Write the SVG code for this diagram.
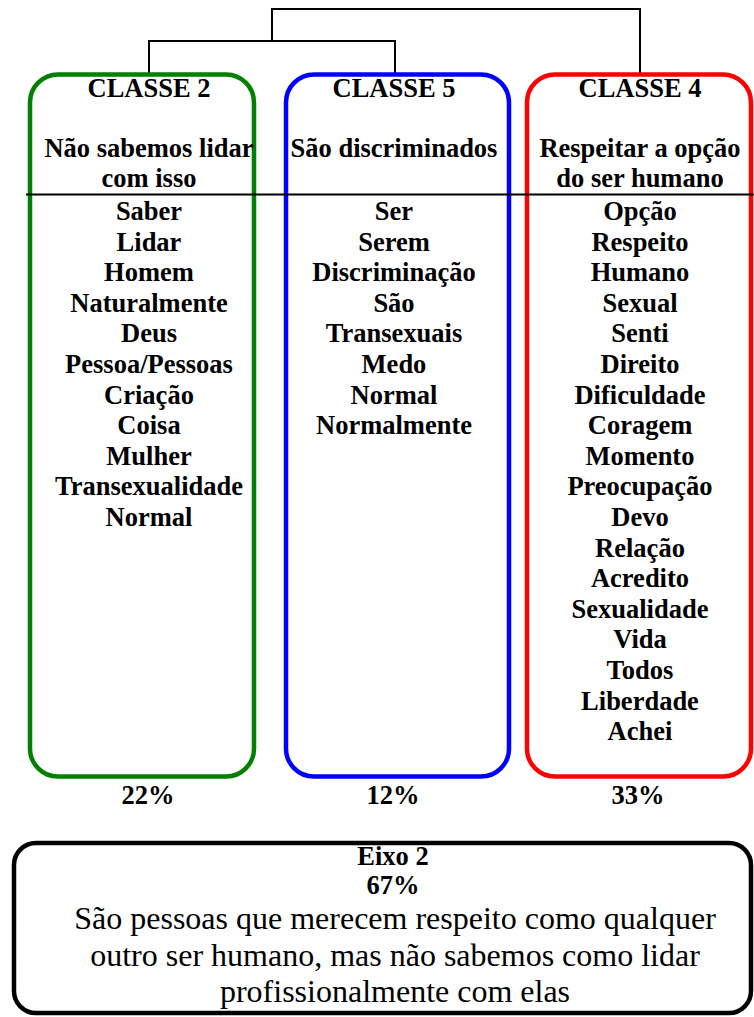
<svg xmlns="http://www.w3.org/2000/svg" width="754" height="1017" viewBox="0 0 754 1017">
<style>
.b{font-family:"Liberation Serif","Times New Roman",serif;font-weight:bold;font-size:26.5px;text-anchor:middle;fill:#000}
.r{font-family:"Liberation Serif","Times New Roman",serif;font-size:32px;text-anchor:middle;fill:#000}
.ln{stroke:#000;stroke-width:2;fill:none}
.box{fill:none;stroke-width:4.5}
</style>
<rect width="754" height="1017" fill="#fff"/>
<g id="connectors">
<polyline class="ln" points="272,41 272,9 640,9 640,73"/>
<polyline class="ln" points="149,73 149,41 395,41 395,73"/>
</g>
<g id="classe2">
<rect class="box" x="30" y="74.5" width="224" height="702" rx="28" stroke="#008000"/>
<text class="b" x="149" y="97">CLASSE 2</text>
<text class="b" x="149" y="157">Não sabemos lidar</text>
<text class="b" x="149" y="187">com isso</text>
<text class="b" x="149" y="220">Saber</text>
<text class="b" x="149" y="250.6">Lidar</text>
<text class="b" x="149" y="281.2">Homem</text>
<text class="b" x="149" y="311.8">Naturalmente</text>
<text class="b" x="149" y="342.4">Deus</text>
<text class="b" x="149" y="373">Pessoa/Pessoas</text>
<text class="b" x="149" y="403.6">Criação</text>
<text class="b" x="149" y="434.2">Coisa</text>
<text class="b" x="149" y="464.8">Mulher</text>
<text class="b" x="149" y="495.4">Transexualidade</text>
<text class="b" x="149" y="526">Normal</text>
<text class="b" x="148" y="804">22%</text>
</g>
<g id="classe5">
<rect class="box" x="286" y="74.5" width="223" height="702" rx="28" stroke="#0000FF"/>
<text class="b" x="394" y="97">CLASSE 5</text>
<text class="b" x="394" y="157">São discriminados</text>
<text class="b" x="394" y="220">Ser</text>
<text class="b" x="394" y="250.6">Serem</text>
<text class="b" x="394" y="281.2">Discriminação</text>
<text class="b" x="394" y="311.8">São</text>
<text class="b" x="394" y="342.4">Transexuais</text>
<text class="b" x="394" y="373">Medo</text>
<text class="b" x="394" y="403.6">Normal</text>
<text class="b" x="394" y="434.2">Normalmente</text>
<text class="b" x="393" y="804">12%</text>
</g>
<g id="classe4">
<rect class="box" x="527" y="74.5" width="224" height="702" rx="28" stroke="#FF0000"/>
<text class="b" x="640" y="97">CLASSE 4</text>
<text class="b" x="640" y="157">Respeitar a opção</text>
<text class="b" x="640" y="187">do ser humano</text>
<text class="b" x="640" y="220">Opção</text>
<text class="b" x="640" y="250.6">Respeito</text>
<text class="b" x="640" y="281.2">Humano</text>
<text class="b" x="640" y="311.8">Sexual</text>
<text class="b" x="640" y="342.4">Senti</text>
<text class="b" x="640" y="373">Direito</text>
<text class="b" x="640" y="403.6">Dificuldade</text>
<text class="b" x="640" y="434.2">Coragem</text>
<text class="b" x="640" y="464.8">Momento</text>
<text class="b" x="640" y="495.4">Preocupação</text>
<text class="b" x="640" y="526">Devo</text>
<text class="b" x="640" y="556.6">Relação</text>
<text class="b" x="640" y="587.2">Acredito</text>
<text class="b" x="640" y="617.8">Sexualidade</text>
<text class="b" x="640" y="648.4">Vida</text>
<text class="b" x="640" y="679">Todos</text>
<text class="b" x="640" y="709.6">Liberdade</text>
<text class="b" x="640" y="740.2">Achei</text>
<text class="b" x="638" y="804">33%</text>
</g>
<line id="divider" x1="26" y1="194.5" x2="754" y2="194.5" stroke="#000" stroke-width="2"/>
<g id="eixo2">
<rect x="14" y="843" width="737" height="170" rx="22" fill="none" stroke="#000" stroke-width="4.5"/>
<text class="b" x="393" y="865">Eixo 2</text>
<text class="b" x="393" y="894">67%</text>
<text class="r" x="395" y="929">São pessoas que merecem respeito como qualquer</text>
<text class="r" x="395" y="966">outro ser humano, mas não sabemos como lidar</text>
<text class="r" x="395" y="1002">profissionalmente com elas</text>
</g>
</svg>
